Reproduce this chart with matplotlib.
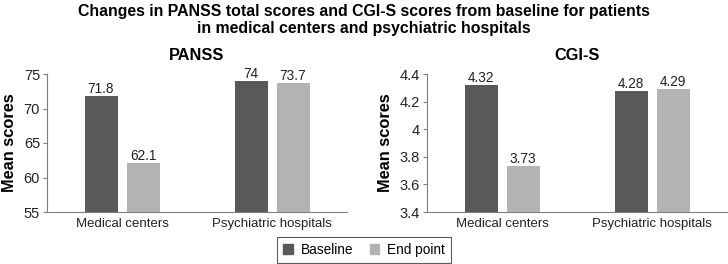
import matplotlib
matplotlib.use("Agg")
import matplotlib.pyplot as plt
import numpy as np
from matplotlib.patches import Patch

plt.rcParams['font.family'] = ['Liberation Sans', 'DejaVu Sans']

categories = ["Medical centers", "Psychiatric hospitals"]
series_names = ["Baseline", "End point"]
panss_baseline = [71.8, 74]
panss_endpoint = [62.1, 73.7]
cgis_baseline = [4.32, 4.28]
cgis_endpoint = [3.73, 4.29]
panss_labels = [["71.8", "74"], ["62.1", "73.7"]]
cgis_labels = [["4.32", "4.28"], ["3.73", "4.29"]]
panss_ticks = [55, 60, 65, 70, 75]
cgis_ticks = [3.4, 3.6, 3.8, 4.0, 4.2, 4.4]
cgis_ticklabels = ["3.4", "3.6", "3.8", "4", "4.2", "4.4"]

dark = "#595959"
light = "#b3b3b3"
axis_col = "#7f7f7f"

fig = plt.figure(figsize=(7.28, 2.64), dpi=100)
fig.text(0.5, 0.985, "Changes in PANSS total scores and CGI-S scores from baseline for patients\nin medical centers and psychiatric hospitals",
         ha="center", va="top", fontsize=11.4, fontweight="bold", linespacing=1.15)

axL = fig.add_axes([47/728, 1-212/264, 300/728, 138/264])
axR = fig.add_axes([427/728, 1-212/264, 300/728, 138/264])

x = np.arange(len(categories))
w = 0.22
off = 0.14

def draw(ax, base, endp, labels, ticks, ticklabels, ylim, title):
    b1 = ax.bar(x - off, base, w, color=dark)
    b2 = ax.bar(x + off, endp, w, color=light)
    for bars, labs in zip((b1, b2), labels):
        for b, l in zip(bars, labs):
            ax.text(b.get_x() + b.get_width()/2, b.get_height(), l, ha="center", va="bottom",
                    fontsize=9.8, color="#222222")
    ax.set_ylim(*ylim)
    ax.set_xlim(-0.5, 1.5)
    ax.set_yticks(ticks)
    ax.set_yticklabels(ticklabels, fontsize=10.5, color="#222222")
    ax.set_xticks(x)
    ax.set_xticklabels(categories, fontsize=9.5, color="#222222")
    ax.tick_params(axis="x", length=0, pad=4)
    ax.tick_params(axis="y", length=3, color=axis_col, pad=2)
    for s in ("top", "right"):
        ax.spines[s].set_visible(False)
    for s in ("left", "bottom"):
        ax.spines[s].set_color(axis_col)
        ax.spines[s].set_linewidth(0.8)
    ax.set_ylabel("Mean scores", fontsize=11.8, fontweight="bold", labelpad=5)
    ax.set_title(title, fontsize=11.8, fontweight="bold", pad=10)

draw(axL, panss_baseline, panss_endpoint, panss_labels, panss_ticks, [str(t) for t in panss_ticks], (55, 75), "PANSS")
draw(axR, cgis_baseline, cgis_endpoint, cgis_labels, cgis_ticks, cgis_ticklabels, (3.4, 4.4), "CGI-S")

handles = [Patch(color=dark), Patch(color=light)]
leg = fig.legend(handles, series_names, loc="center", bbox_to_anchor=(364/728, 1-250/264), ncol=2,
                 fontsize=9.8, frameon=True, fancybox=False, edgecolor="#333333",
                 handlelength=0.7, handleheight=0.7, handletextpad=0.6, columnspacing=1.2,
                 borderpad=0.45)
leg.get_frame().set_linewidth(0.8)

fig.savefig("out.png", dpi=100)
